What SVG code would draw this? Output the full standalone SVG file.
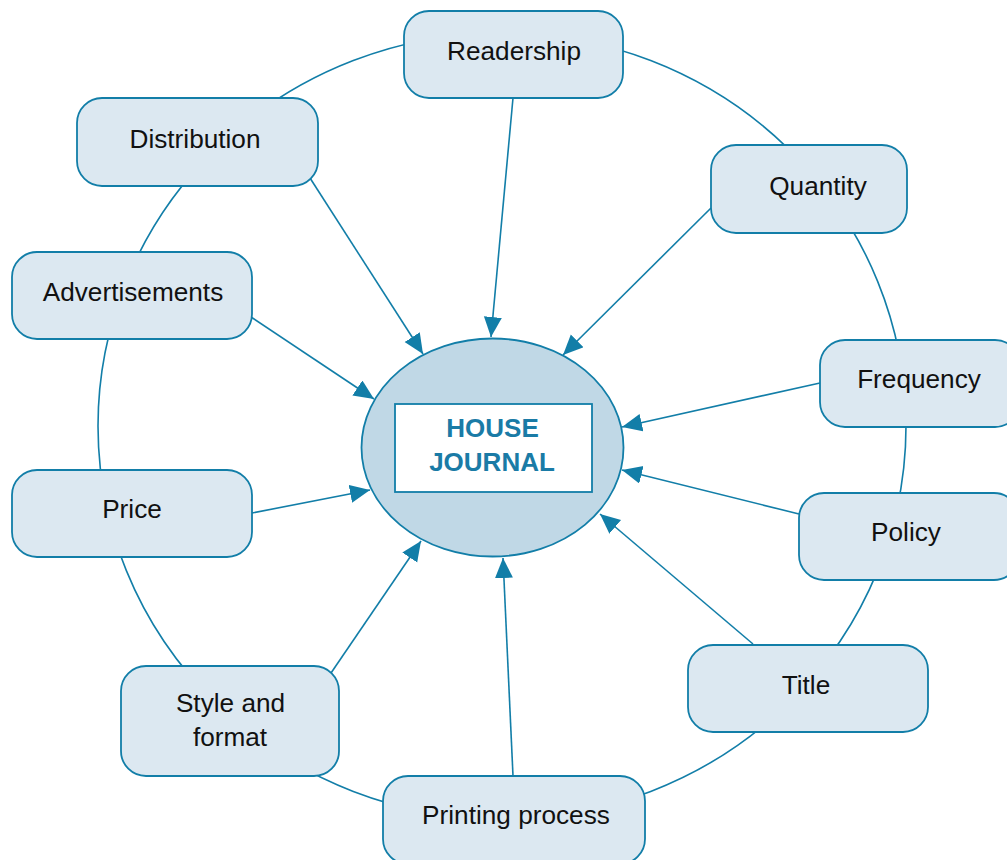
<svg xmlns="http://www.w3.org/2000/svg" width="1007" height="860" viewBox="0 0 1007 860">
<style>
.ln{fill:none;stroke:#127ea8;stroke-width:1.6}
.nd{fill:#dce8f1;stroke:#127ea8;stroke-width:1.8}
.t{font-family:"Liberation Sans",Arial,sans-serif;font-size:26.2px;fill:#111;text-anchor:middle}
.h{font-family:"Liberation Sans",Arial,sans-serif;font-size:26px;font-weight:bold;fill:#1a7ba6;text-anchor:middle}
</style>
<defs>
<marker id="ah" markerUnits="userSpaceOnUse" markerWidth="22" markerHeight="20" refX="20" refY="9" orient="auto">
<path d="M0,0 L20,9 L0,18 z" fill="#127ea8"/>
</marker>
</defs>
<rect width="1007" height="860" fill="#fff"/>
<g id="connectors">
<ellipse class="ln" cx="502" cy="426" rx="404" ry="393"/>
<line class="ln" x1="513" y1="98" x2="491" y2="337" marker-end="url(#ah)"/>
<line class="ln" x1="310" y1="178" x2="423" y2="354" marker-end="url(#ah)"/>
<line class="ln" x1="711" y1="208" x2="563" y2="355" marker-end="url(#ah)"/>
<line class="ln" x1="251" y1="317" x2="374" y2="399" marker-end="url(#ah)"/>
<line class="ln" x1="252" y1="513" x2="370" y2="490" marker-end="url(#ah)"/>
<line class="ln" x1="820" y1="383" x2="622" y2="427" marker-end="url(#ah)"/>
<line class="ln" x1="799" y1="514" x2="622" y2="470" marker-end="url(#ah)"/>
<line class="ln" x1="753" y1="644" x2="600" y2="514" marker-end="url(#ah)"/>
<line class="ln" x1="513" y1="776" x2="503" y2="558" marker-end="url(#ah)"/>
<line class="ln" x1="331" y1="673" x2="421" y2="541" marker-end="url(#ah)"/>
</g>
<g id="center">
<ellipse cx="492.5" cy="447.5" rx="131" ry="109" fill="#c0d8e6" stroke="#127ea8" stroke-width="1.8"/>
<rect x="395" y="404" width="197" height="88" fill="#fff" stroke="#127ea8" stroke-width="1.8"/>
<text class="h" x="492.5" y="437">HOUSE</text>
<text class="h" x="492" y="471">JOURNAL</text>
</g>
<g id="readership"><rect class="nd" x="404" y="11" width="219" height="87" rx="25"/><text class="t" x="514" y="60">Readership</text></g>
<g id="distribution"><rect class="nd" x="77" y="98" width="241" height="88" rx="25"/><text class="t" x="195" y="148">Distribution</text></g>
<g id="quantity"><rect class="nd" x="711" y="145" width="196" height="88" rx="25"/><text class="t" x="818" y="195">Quantity</text></g>
<g id="advertisements"><rect class="nd" x="12" y="252" width="240" height="87" rx="25"/><text class="t" x="133" y="301">Advertisements</text></g>
<g id="frequency"><rect class="nd" x="820" y="340" width="200" height="87" rx="25"/><text class="t" x="919" y="388">Frequency</text></g>
<g id="price"><rect class="nd" x="12" y="470" width="240" height="87" rx="25"/><text class="t" x="132" y="518">Price</text></g>
<g id="policy"><rect class="nd" x="799" y="493" width="220" height="87" rx="25"/><text class="t" x="906" y="541">Policy</text></g>
<g id="title"><rect class="nd" x="688" y="645" width="240" height="87" rx="25"/><text class="t" x="806" y="694">Title</text></g>
<g id="style"><rect class="nd" x="121" y="666" width="218" height="110" rx="25"/><text class="t" x="230.5" y="712">Style and</text><text class="t" x="230" y="746">format</text></g>
<g id="printing"><rect class="nd" x="383" y="776" width="262" height="88" rx="25"/><text class="t" x="516" y="824">Printing process</text></g>
</svg>
